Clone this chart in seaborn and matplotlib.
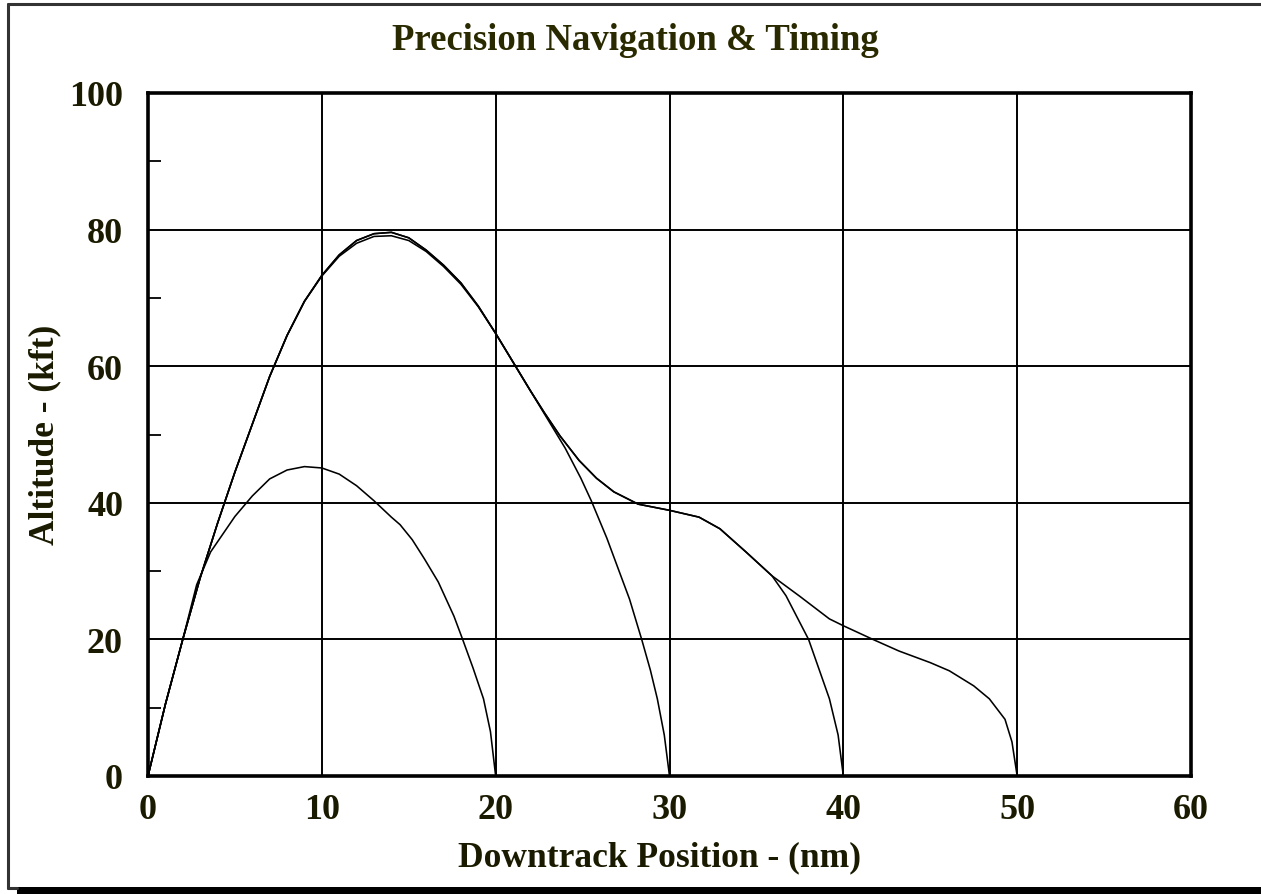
import numpy as np
import pandas as pd
import matplotlib
matplotlib.use("Agg")
import matplotlib.pyplot as plt
from matplotlib.lines import Line2D
from matplotlib.patches import Rectangle
from matplotlib.ticker import MultipleLocator
import seaborn as sns

# ---- data ----
range20_x = [0, 1, 2, 2.8, 3.6, 5, 6, 7, 8, 9, 10, 11, 12, 13, 14, 14.5, 15.2, 15.9, 16.7, 17.6, 18.1, 18.7, 19.3, 19.7, 20]
range20_y = [0, 10.5, 20, 28, 32.8, 38, 41, 43.5, 44.8, 45.3, 45.1, 44.2, 42.5, 40.3, 37.9, 36.8, 34.6, 31.8, 28.4, 23.4, 20, 15.8, 11.3, 6.5, 0]

range30_x = [0, 1, 2, 3, 4, 5, 6, 7, 8, 9, 10, 11, 12, 13, 14, 15, 16, 17, 18, 19, 20, 21, 22, 23,
             24, 24.9, 25.5, 26.4, 27.1, 27.7, 28.4, 28.9, 29.3, 29.7, 30]
range30_y = [0, 10.5, 20, 29, 37, 44.5, 51.5, 58.5, 64.5, 69.5, 73.2, 76.1, 78, 79, 79.1, 78.4, 76.8, 74.6, 72, 68.7, 64.8, 60.6, 56.4, 52.2,
             48, 43.6, 40.3, 34.8, 30, 25.9, 20, 15.5, 11.3, 6, 0]

range40_x = [0, 1, 2, 3, 4, 5, 6, 7, 8, 9, 10, 11, 12, 13, 14, 15, 16, 17, 18, 19, 20, 21, 22, 22.8,
             23.7, 24.8, 25.8, 26.8, 28.2, 30, 31.7, 32.9, 34.4, 35.9, 36.7, 38, 39.2, 39.7, 40]
range40_y = [0, 10.5, 20, 29, 37, 44.5, 51.5, 58.5, 64.5, 69.5, 73.3, 76.3, 78.4, 79.4, 79.6, 78.8, 77, 74.8, 72.2, 68.8, 64.8, 60.6, 56.4, 53.2,
             49.8, 46.2, 43.6, 41.6, 39.8, 38.9, 37.9, 36.2, 32.8, 29.3, 26.4, 20, 11.3, 6, 0]

range50_x = [0, 1, 2, 3, 4, 5, 6, 7, 8, 9, 10, 11, 12, 13, 14, 15, 16, 17, 18, 19, 20, 21, 22, 22.8,
             23.7, 24.8, 25.8, 26.8, 28.2, 30, 31.7, 32.9, 34.4, 35.9, 37.5, 39.2, 40, 41.7, 43.2, 45, 46.1, 47.5,
             48.4, 49.3, 49.7, 50]
range50_y = [0, 10.5, 20, 29, 37, 44.5, 51.5, 58.5, 64.5, 69.5, 73.3, 76.3, 78.4, 79.4, 79.6, 78.8, 77, 74.8, 72.2, 68.8, 64.8, 60.6, 56.4, 53.2,
             49.8, 46.2, 43.6, 41.6, 39.8, 38.9, 37.9, 36.2, 32.8, 29.3, 26.3, 23, 22, 20, 18.3, 16.6, 15.4, 13.2,
             11.3, 8.3, 5, 0]

x_ticks = [0, 10, 20, 30, 40, 50, 60]
y_ticks = [0, 20, 40, 60, 80, 100]

title = "Precision Navigation & Timing"
xlabel = "Downtrack Position - (nm)"
ylabel = "Altitude - (kft)"

frames = []
for name, xs, ys in [("20", range20_x, range20_y), ("30", range30_x, range30_y),
                     ("40", range40_x, range40_y), ("50", range50_x, range50_y)]:
    frames.append(pd.DataFrame({"x": xs, "y": ys, "run": name}))
df = pd.concat(frames, ignore_index=True)

sns.set_theme(style="white")
plt.rcParams["font.family"] = ["Liberation Serif", "DejaVu Serif"]

W, H = 1261, 895
fig = plt.figure(figsize=(W / 100, H / 100), dpi=100)
ax = fig.add_axes([148 / W, 1 - 777 / H, (1191 - 148) / W, (777 - 94) / H])

for name in ["20", "30", "40", "50"]:
    sub = df[df["run"] == name]
    sns.lineplot(data=sub, x="x", y="y", ax=ax, sort=False, estimator=None,
                 color="black", linewidth=1.15)

ax.set_xlim(0, 60)
ax.set_ylim(0, 100)
ax.set_xticks(x_ticks)
ax.set_yticks(y_ticks)
ax.yaxis.set_minor_locator(MultipleLocator(10))
ax.grid(True, which="major", color="black", linewidth=1.4)
ax.set_axisbelow(True)
ax.tick_params(axis="both", which="major", length=0, labelsize=26, colors="#1a1a00")
ax.tick_params(axis="x", which="major", pad=12)
ax.tick_params(axis="y", which="major", pad=18)
ax.tick_params(axis="y", which="minor", left=True, direction="in", length=9, width=1.3, color="black")
for lab in ax.get_xticklabels() + ax.get_yticklabels():
    lab.set_fontweight("bold")
for sp in ax.spines.values():
    sp.set_visible(True)
    sp.set_color("black")
    sp.set_linewidth(2.6)

ax.set_xlabel(xlabel, fontsize=25.5, fontweight="bold", color="#1a1a00")
ax.set_ylabel(ylabel, fontsize=25.5, fontweight="bold", color="#1a1a00")
ax.xaxis.set_label_coords((660 - 148) / (1191 - 148), (777 - 858) / (777 - 94))
ax.xaxis.label.set_va("center")
ax.yaxis.set_label_coords((45 - 148) / (1191 - 148), (777 - 435) / (777 - 94))
ax.yaxis.label.set_va("center")
fig.text(635 / W, 1 - 41 / H, title, ha="center", va="center", fontsize=26.5,
         fontweight="bold", color="#2a2a00")

# figure frame with shadow
fig.add_artist(Line2D([8 / W, 1], [1 - 5 / H, 1 - 5 / H], transform=fig.transFigure,
                      color="#333333", linewidth=2.2))
fig.add_artist(Line2D([8 / W, 8 / W], [1 - 5 / H, 1 - 889 / H], transform=fig.transFigure,
                      color="#333333", linewidth=2.2))
fig.add_artist(Line2D([8 / W, 17 / W], [1 - 889 / H, 1 - 889 / H], transform=fig.transFigure,
                      color="#333333", linewidth=2.2))
fig.add_artist(Rectangle((17 / W, 0), 1 - 17 / W, 7 / H, transform=fig.transFigure,
                         facecolor="black", edgecolor="none"))

fig.savefig("out.png", dpi=100)
